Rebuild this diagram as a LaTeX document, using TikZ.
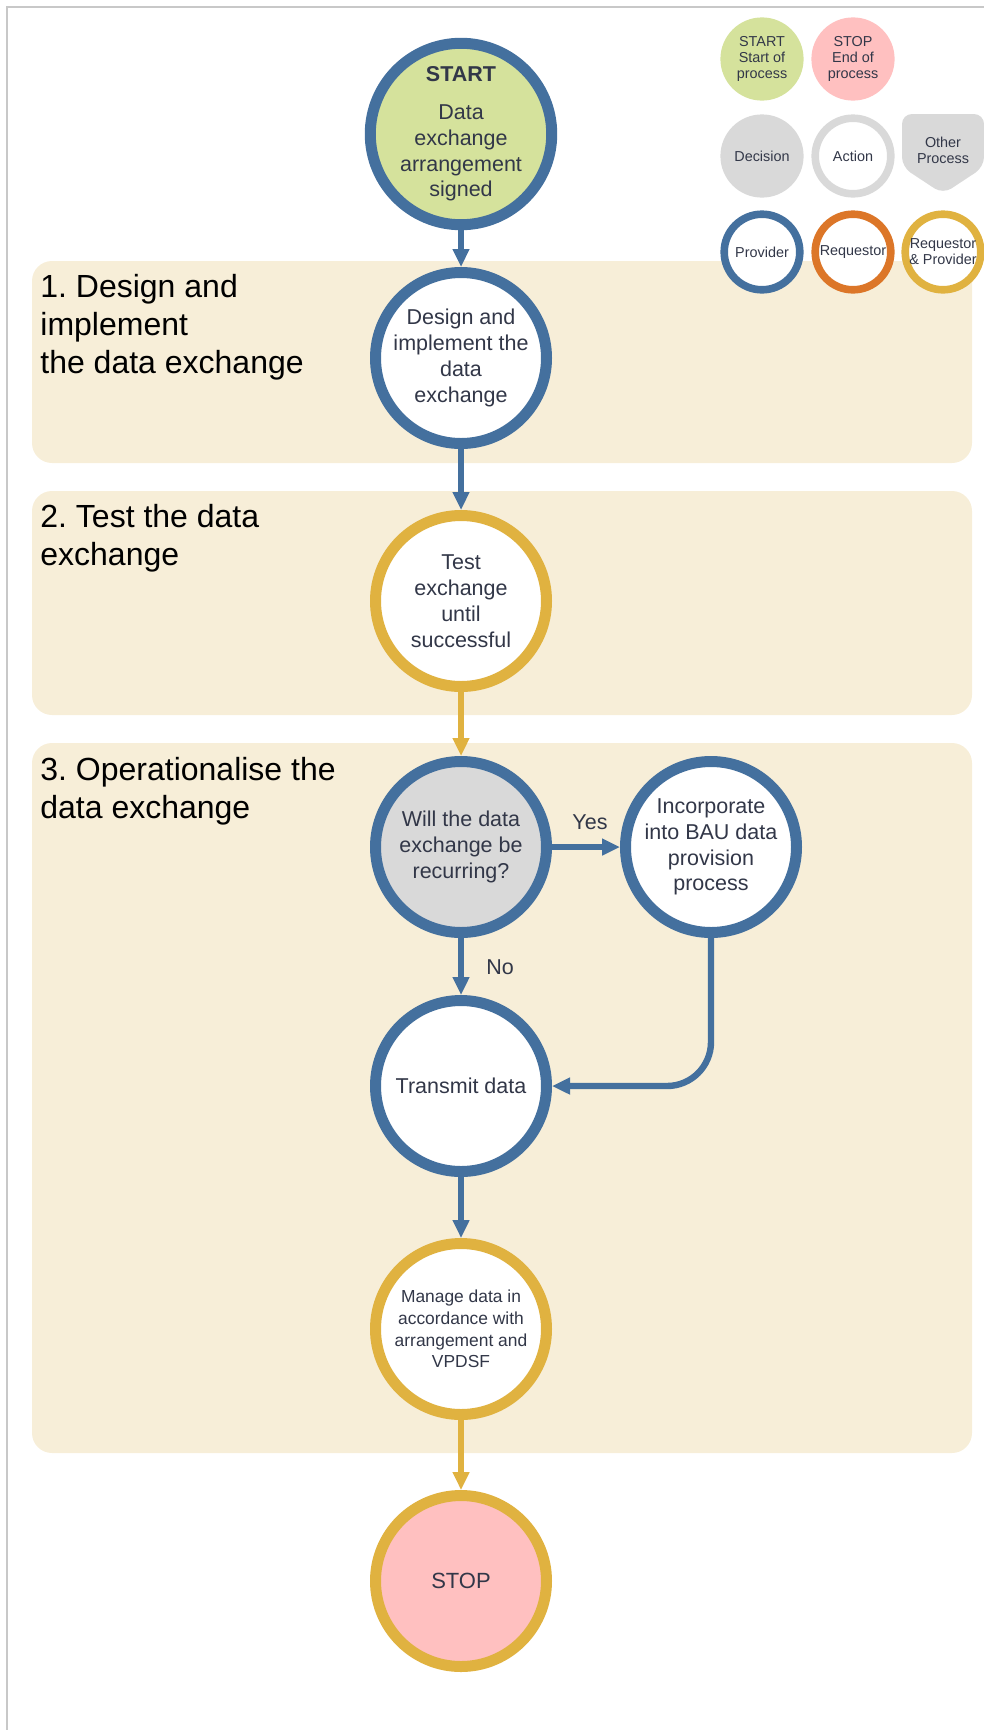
\documentclass[tikz,border=0pt]{standalone}
\usepackage{fontspec}
\setmainfont{Liberation Sans}
\usetikzlibrary{arrows.meta, positioning}
\frenchspacing
\definecolor{provblue}{RGB}{68,112,158}
\definecolor{bothgold}{RGB}{224,178,64}
\definecolor{reqorange}{RGB}{220,118,40}
\definecolor{startgreen}{RGB}{213,226,156}
\definecolor{stoppink}{RGB}{255,192,192}
\definecolor{decgray}{RGB}{217,217,217}
\definecolor{bandfill}{RGB}{247,238,216}
\definecolor{framegray}{RGB}{200,200,200}
\definecolor{txt}{RGB}{50,55,72}
\newcommand{\headfont}{\fontsize{16}{19}\selectfont}
\newcommand{\nodefont}{\fontsize{10.75}{12.9}\selectfont}
\newcommand{\smallfont}{\fontsize{8.7}{10.8}\selectfont}
\newcommand{\keyfont}{\fontsize{7.2}{8}\selectfont}
\tikzstyle{band}=[fill=bandfill, rounded corners=10pt]
\tikzstyle{heading}=[anchor=north west, align=left, inner sep=0pt, font=\headfont]
\tikzstyle{stage}=[circle, minimum size=85.5pt, inner sep=0pt, line width=5.5pt, fill=white, align=center, text=txt, font=\nodefont]
\tikzstyle{prov}=[stage, draw=provblue]
\tikzstyle{both}=[stage, draw=bothgold]
\tikzstyle{key}=[circle, minimum size=37.8pt, inner sep=0pt, line width=3.8pt, fill=white, align=center, text=txt, font=\keyfont]
\tikzstyle{flow}=[line width=3.2pt, -{Triangle[length=9pt,width=8pt]}]

\begin{document}
\begin{tikzpicture}[x=0.5pt, y=-0.5pt]
    \useasboundingbox (0,0) rectangle (984,1730);
    \draw[framegray, line width=1pt] (7,1730) -- (7,7) -- (984,7);
    % stage bands
    \fill[band] (32,261) rectangle (972,463);
    \fill[band] (32,491) rectangle (972,715);
    \fill[band] (32,743) rectangle (972,1453);
    \node[heading] (h1) at (40,274) {1. Design and\\implement\\the data exchange};
    \node[heading] (h2) at (40,504) {2. Test the data\\exchange};
    \node[heading] (h3) at (40,757) {3. Operationalise the\\data exchange};
    % legend
    \node[key, fill=startgreen, draw=startgreen] (startkey) at (762,59) {START\\Start of\\process};
    \node[key, fill=stoppink, draw=stoppink, right of=startkey, node distance=45.5pt] (stopkey) {STOP\\End of\\process};
    \node[key, fill=decgray, draw=decgray, below of=startkey, node distance=48.5pt] (deckey) {Decision};
    \node[key, draw=decgray, right of=deckey, node distance=45.5pt] (actkey) {Action};
    \fill[decgray, rounded corners=5pt] (902,114) -- (984,114) -- (984,167) -- (943,194) -- (902,167) -- cycle;
    \node[align=center, text=txt, font=\keyfont] (otherkey) at (943,150) {Other\\Process};
    \node[key, draw=provblue, below of=deckey, node distance=48pt] (provkey) {Provider};
    \node[key, draw=reqorange, right of=provkey, node distance=45.5pt] (reqkey) {Requestor};
    \node[key, draw=bothgold, right of=reqkey, node distance=45pt] (bothkey) {Requestor\\\& Provider};
    % flow
    \node[prov, fill=startgreen] (start) at (461,134) {\textbf{START}\\[6pt]Data\\exchange\\arrangement\\signed};
    \node[prov, below of=start, node distance=112pt] (design) {Design and\\implement the\\data\\exchange};
    \node[both, below of=design, node distance=121.5pt] (test) {Test\\exchange\\until\\successful};
    \node[prov, fill=decgray, below of=test, node distance=123pt] (dec) {Will the data\\exchange be\\recurring?};
    \node[prov, right of=dec, node distance=125pt] (bau) {Incorporate\\into BAU data\\provision\\process};
    \node[prov, below of=dec, node distance=119.5pt] (send) {Transmit data};
    \node[both, font=\smallfont, below of=send, node distance=121.5pt] (manage) {Manage data in\\accordance with\\arrangement and\\VPDSF};
    \node[both, fill=stoppink, font=\fontsize{11}{13}\selectfont, below of=manage, node distance=126pt] (stop) {STOP};
    \node[text=txt, font=\nodefont] (yes) at (590,822) {Yes};
    \node[text=txt, font=\nodefont] (no) at (500,967) {No};
    \draw[flow, provblue] (start) -- (design);
    \draw[flow, provblue] (design) -- (test);
    \draw[flow, bothgold] (test) -- (dec);
    \draw[flow, provblue] (dec) -- (bau);
    \draw[flow, provblue] (dec) -- (send);
    \draw[flow, provblue, rounded corners=22pt] (bau.south) |- (send.east);
    \draw[flow, provblue] (send) -- (manage);
    \draw[flow, bothgold] (manage) -- (stop);
\end{tikzpicture}
\end{document}
